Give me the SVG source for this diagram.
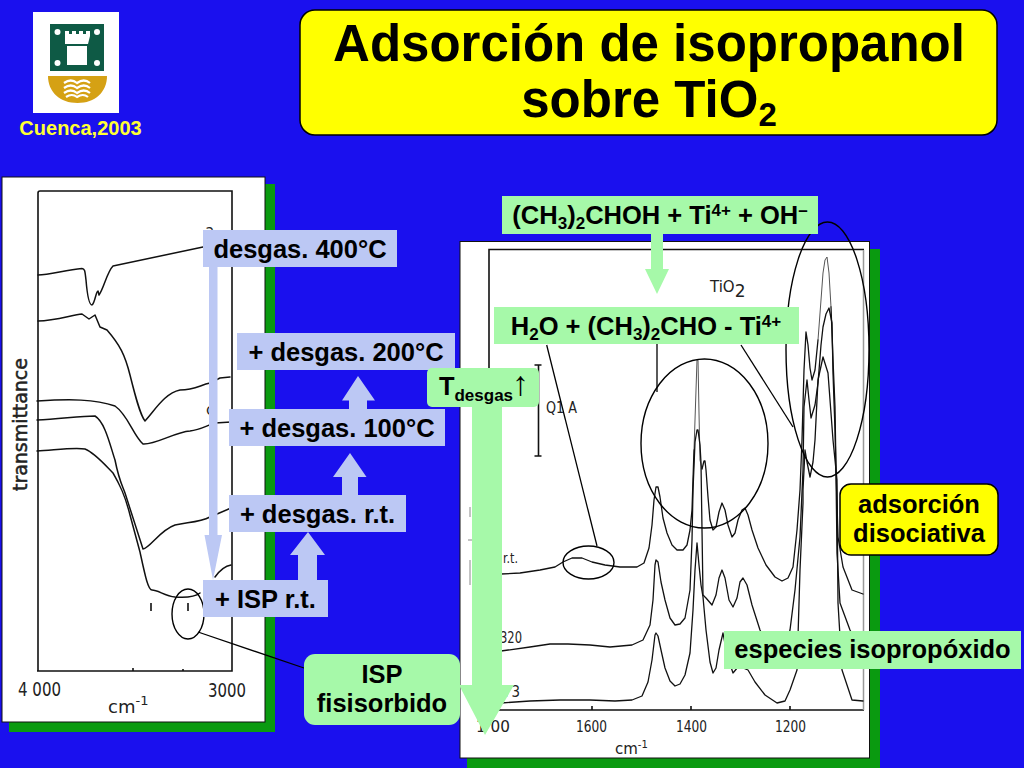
<svg xmlns="http://www.w3.org/2000/svg" width="1024" height="768" viewBox="0 0 1024 768">
<style>
text{font-family:"Liberation Sans",Arial,sans-serif;font-weight:bold;fill:#000;text-anchor:middle}
.l{font-size:25.500px}
.t{font-size:51px}
.scan{font-family:"DejaVu Sans",sans-serif;font-weight:normal;fill:#222;text-anchor:start}
.sp{fill:none;stroke:#111;stroke-width:1.500;stroke-linejoin:round;stroke-linecap:round}
.spr{fill:none;stroke:#111;stroke-width:1.300;stroke-linejoin:round;stroke-linecap:round}
.ax{fill:none;stroke:#111;stroke-width:1.600}
.faint{fill:none;stroke:#888;stroke-width:1}
.el{fill:none;stroke:#000;stroke-width:1.400}
.cn{stroke:#000;stroke-width:1.300;fill:none}
.blue{fill:#bcc8f4}
.grn{fill:#a6f9a9}
.ylw{fill:#ffff00;stroke:#000;stroke-width:1.500}
.shadow{fill:#0a9a10}
.page{fill:#fff;stroke:#111;stroke-width:1}
</style>
<rect width="1024" height="768" fill="#1a10ee"/>

<g id="logo">
<rect x="33" y="12" width="86" height="101" fill="#fff"/>
<rect x="50" y="24" width="54" height="47" fill="#0e5a45"/>
<path d="M65 36v-5h4v3h3v-3h4v3h3v-3h4v3h3v-3h4v5l-2 8h-23zM67 46h20v19h-20z" fill="#fff"/>
<g fill="#fff"><circle cx="57.500" cy="32" r="3"/><circle cx="97" cy="32" r="3"/><circle cx="57.500" cy="63" r="3"/><circle cx="97" cy="63" r="3"/></g>
<path d="M48 76h59c0 16-12 27-29.500 27S48 92 48 76z" fill="#d5a114"/>
<path d="M64 83q7-5 13 0q7-5 13 0M64 88q7-5 13 0q7-5 13 0M64 93q7-5 13 0q7-5 13 0M66 97q6-4 11 0q6-4 11 0" fill="none" stroke="#fff" stroke-width="2.200"/>
</g>
<g id="cuenca"><text x="80.500" y="134.500" font-size="20" style="fill:#ffff33">Cuenca,2003</text></g>

<g id="title">
<rect x="300" y="10" width="697" height="125" rx="15" class="ylw"/>
<text class="t" x="649" y="61">Adsorción de isopropanol</text>
<text class="t" x="649" y="117">sobre TiO<tspan font-size="33" dy="9">2</tspan></text>
</g>

<g id="spectrum-left">
<rect x="9" y="184" width="266" height="548" class="shadow"/>
<rect x="2" y="177" width="263" height="545" class="page"/>
<path class="ax" d="M38 671V193q0-2 2-2H232V671H37M133 671v-3M183 671v-2"/>
<path class="sp" d="M38 275C50 275 65 270 82 268.500C85 268.500 85 272 86 280C87 292 89 305 92 305C95 303 96 291 98 291L99 295C104 288 107 272 113 266L203 247"/>
<path class="sp" d="M38 321C55 321 72 315 82 314L89 319L95 315L100 327L107 330C120 345 125 355 130 375C135 395 140 415 145 421C155 410 165 393 180 390C195 390 200 385 210 383L220 378L230 377"/>
<path class="sp" d="M37 401C70 399 95 399 115 406C128 415 133 435 143 444C155 445 175 432 190 431C200 430 208 425 215 423L231 422"/>
<path class="sp" d="M37 420C60 419 80 416 95 416C105 422 110 445 115 460C119 480 122 485 125 493L143 549C150 548 160 530 175 525C190 522 200 522 210 517L231 508"/>
<path class="sp" d="M37 451C55 450 75 447 85 449C95 453 105 465 113 473C120 485 125 495 130 515L140 552C145 575 148 590 152 590C158 590 165 596 175 597C188 598 195 597 200 593M215 577C220 570 225 566 231 565"/>
<path class="ax" d="M151 603v8M188 603v8"/>
<text class="scan" transform="translate(27,491) rotate(-90)" font-size="19" textLength="133" lengthAdjust="spacing" stroke="#222" stroke-width=".5">transmittance</text>
<text class="scan" x="18" y="696" font-size="20" textLength="43" lengthAdjust="spacingAndGlyphs">4 000</text>
<text class="scan" x="208" y="697" font-size="20" textLength="38" lengthAdjust="spacingAndGlyphs">3000</text>
<text class="scan" x="108" y="713" font-size="18">cm<tspan font-size="13" dy="-8">-1</tspan></text>
<text class="scan" x="205" y="236" font-size="15">a</text>
<text class="scan" x="206" y="415" font-size="15">c</text>
<ellipse id="e-isp" cx="188" cy="614" rx="16" ry="25" class="el"/>
</g>

<g id="spectrum-right">
<rect x="467" y="249" width="413" height="519" class="shadow"/>
<rect x="460" y="241.500" width="409.500" height="516.500" class="page"/>
<path class="ax" d="M489 530V249.500H864M864 710H489"/>
<path d="M863.500 250V710" fill="none" stroke="#999" stroke-width="1.500"/>
<path class="ax" d="M592 710v-4M691 710v-4M790 710v-4"/>
<path class="faint" d="M470 507v10M468 540h4M470 560v25"/>
<path class="ax" d="M538.500 365v91M534.500 365h7M534.500 456h7"/>
<path class="spr" d="M501 574L520 573 540 570 555 567 563 562 572 558 582 558 592 562 605 565 620 567 637 567 644 563 649 548 652 525 654 500 656 487 658 487 660 497 663 518 667 533 672 545 677 550 683 550 687 545 690 530 692 510 694 450"/>
<path fill="none" stroke="#555" stroke-width="1" d="M694 450L696 390 697 360 698 360 699 413 700 460 702 469"/>
<path class="spr" d="M702 469L704 461 705 461 706 470 708 497 710 520 713 530 716 527 719 512 722 503 725 510 728 525 732 537 735 533 738 520 742 510 745 508 748 515 752 530 758 548 766 565 775 577 782 581 788 578 793 567 797 530 800 490 802 440 804 370 806 332 808 345 810 368 812 380 815 370 818 340"/>
<path fill="none" stroke="#555" stroke-width="1" d="M818 340L821 300 823 273 825 260 827 257 829 273 831 307"/>
<path class="spr" d="M831 307L833 360 835 407 836 470 838 537 843 567 852 590 863 594"/>
<path class="spr" d="M501 651L530 647 550 644 568 644 590 645 610 647 632 645 643 640 650 625 653 600 655 565 656 560 658 562 661 582 665 600 670 618 675 625 680 624 685 618 690 590 692 540 693 490 695 442 697 430 698 430 700 445 701 463 702 530 703 595 706 598 712 605 716 595 719 578 722 570 725 578 729 600 733 607 737 598 740 582 743 578 747 585 752 605 760 630 770 650 778 656 785 648 790 630 795 590 800 537 803 470 804 407 807 380 809 400 811 418 815 405 818 383 821 345 823 327 826 314 829 308 832 323 833 373 835 430 836 473 837 553 840 603 850 630 858 645 864 650"/>
<path class="spr" d="M501 703L530 701 560 700 590 700 615 701 632 700 642 696 648 682 652 660 655 635 656 633 658 636 661 650 665 668 670 681 675 686 680 684 685 675 690 653 693 610 695 570 697 543 699 565 701 585 703 597 706 630 710 662 713 673 716 668 719 650 723 633 727 655 733 673 738 667 743 668 748 670 755 682 765 695 777 703 785 701 790 690 797 670 800 570 803 503 803 490 805 450 807 462 810 477 813 462 815 440 818 380 823 357 828 373 833 440 837 480 838 603 842 670 852 700 863 701"/>
<text class="scan" x="710" y="292" font-size="15">TiO<tspan font-size="17" dy="5">2</tspan></text>
<text class="scan" x="546" y="413" font-size="15" textLength="31" lengthAdjust="spacingAndGlyphs">Q1 A</text>
<text class="scan" x="503" y="563" font-size="14" textLength="15" lengthAdjust="spacingAndGlyphs">r.t.</text>
<text class="scan" x="500" y="643" font-size="15" textLength="22" lengthAdjust="spacingAndGlyphs">320</text>
<text class="scan" x="503" y="697" font-size="15" textLength="17" lengthAdjust="spacingAndGlyphs">73</text>
<text class="scan" x="476" y="732" font-size="15" textLength="34" lengthAdjust="spacingAndGlyphs">1 00</text>
<text class="scan" x="576" y="732" font-size="15" textLength="31" lengthAdjust="spacingAndGlyphs">1600</text>
<text class="scan" x="676" y="732" font-size="15" textLength="31" lengthAdjust="spacingAndGlyphs">1400</text>
<text class="scan" x="775" y="732" font-size="15" textLength="31" lengthAdjust="spacingAndGlyphs">1200</text>
<text class="scan" x="615" y="754" font-size="15">cm<tspan font-size="10" dy="-6">-1</tspan></text>
<ellipse id="e-isoprop" cx="704.500" cy="443.500" rx="63.500" ry="84.500" class="el"/>
<ellipse id="e-dis" cx="827.500" cy="349.500" rx="41.500" ry="127.500" class="el"/>
<ellipse id="e-sm" cx="588.500" cy="562.500" rx="25.500" ry="16.500" class="el"/>
</g>

<g id="connectors">
<line class="cn" x1="198" y1="632" x2="304" y2="668"/>
<line class="cn" x1="546.700" y1="345" x2="597" y2="546"/>
<line class="cn" x1="657" y1="344" x2="657" y2="392"/>
<line class="cn" x1="741" y1="345" x2="793" y2="427"/>
<path class="blue" d="M209 267h8.500v268h4.500l-9 45l-8.500-45h4.500z"/>
<path class="blue" d="M298 580v-25h-8l18-23l17 23h-8v25z"/>
<path class="blue" d="M342 495v-18h-9l17-24l16.500 24h-8.500v18z"/>
<path class="blue" d="M349 409v-8.500h-7l16-24.500l17 24.500h-8v8.500z"/>
<path class="grn" d="M651 234h12v35h6l-12 25l-12-25h6z"/>
<path class="grn" d="M472 407h30v278h12l-29 50l-26-50h13z"/>
</g>

<g id="n-400"><rect class="blue" x="203" y="230" width="194" height="37"/><text class="l" x="300" y="257.500">desgas. 400°C</text></g>
<g id="n-200"><rect class="blue" x="237" y="333" width="218" height="37"/><text class="l" x="346" y="360.500">+ desgas. 200°C</text></g>
<g id="n-100"><rect class="blue" x="229" y="409" width="216" height="37"/><text class="l" x="337" y="436.500">+ desgas. 100°C</text></g>
<g id="n-rt"><rect class="blue" x="229" y="495" width="177" height="37"/><text class="l" x="317.500" y="522.500">+ desgas. r.t.</text></g>
<g id="n-isp"><rect class="blue" x="203" y="580" width="125" height="37"/><text class="l" x="265.500" y="607.500">+ ISP r.t.</text></g>
<g id="n-react"><rect class="grn" x="502" y="196" width="316" height="38"/><text class="l" x="660" y="223.500">(CH<tspan font-size="17" dy="5">3</tspan><tspan dy="-5">)</tspan><tspan font-size="17" dy="5">2</tspan><tspan dy="-5">CHOH + Ti</tspan><tspan font-size="17" dy="-8">4+</tspan><tspan dy="8"> + OH</tspan><tspan font-size="17" dy="-8">–</tspan></text></g>
<g id="n-prod"><rect class="grn" x="494" y="307" width="305" height="37"/><text class="l" x="646" y="334.500">H<tspan font-size="17" dy="5">2</tspan><tspan dy="-5">O + (CH</tspan><tspan font-size="17" dy="5">3</tspan><tspan dy="-5">)</tspan><tspan font-size="17" dy="5">2</tspan><tspan dy="-5">CHO - Ti</tspan><tspan font-size="17" dy="-8">4+</tspan></text></g>
<g id="n-tdes"><rect class="grn" x="427" y="368" width="112" height="39" rx="5"/><text class="l" x="476" y="395">T<tspan font-size="17" dy="6">desgas</tspan></text><text x="520.500" y="395" font-size="34" style="font-weight:normal">↑</text></g>
<g id="n-fis"><rect class="grn" x="304" y="654" width="156" height="71" rx="11"/><text class="l" x="382" y="683">ISP</text><text class="l" x="382" y="712">fisisorbido</text></g>
<g id="n-dis"><rect class="ylw" x="840" y="484" width="158" height="71" rx="11"/><text class="l" x="919" y="513">adsorción</text><text class="l" x="919" y="542">disociativa</text></g>
<g id="n-esp"><rect class="grn" x="724" y="631" width="297" height="38"/><text class="l" x="872.500" y="658">especies isopropóxido</text></g>
</svg>
